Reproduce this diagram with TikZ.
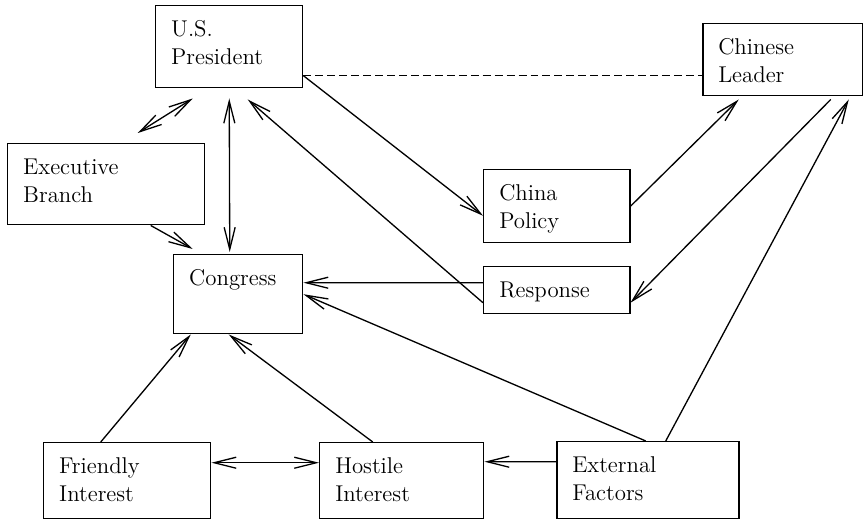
\documentclass[tikz,border=0pt]{standalone}
\usepackage{fontspec}
\usetikzlibrary{arrows.meta}

\begin{document}
\begin{tikzpicture}[>={Straight Barb[length=4.4mm,width=2.2mm]}, line width=0.75pt,
    box/.style 2 args={draw, line width=0.85pt, anchor=north west, align=left,
        inner xsep=0.31cm, inner ysep=0.29cm, text height=0.33cm,
        text width=#1, text depth=#2, font=\fontsize{13}{15.9}\selectfont}]
        % --- Khung hình ---
        \useasboundingbox (0,0) rectangle (17.26,-10.40);

        % --- Các ô ---
        \node[box={2.32cm}{0.73cm}] (USP) at (3.10,-0.10) {U.S.\\President};
        \node[box={2.58cm}{0.53cm}] (CL) at (14.04,-0.46) {Chinese\\Leader};
        \node[box={3.32cm}{0.71cm}] (EB) at (0.14,-2.86) {Executive\\Branch};
        \node[box={1.96cm}{0.67cm}] (Cong) at (3.46,-5.08) {Congress};
        \node[box={2.30cm}{0.55cm}] (CP) at (9.66,-3.38) {China\\Policy};
        \node[box={2.30cm}{0.03cm}] (Resp) at (9.66,-5.32) {Response};
        \node[box={2.72cm}{0.61cm}] (FI) at (0.86,-8.84) {Friendly\\Interest};
        \node[box={2.66cm}{0.61cm}] (HI) at (6.38,-8.84) {Hostile\\Interest};
        \node[box={3.02cm}{0.63cm}] (EF) at (11.12,-8.82) {External\\Factors};

        % --- Quan hệ quanh Tổng thống ---
        \draw[<->] ([xshift=0.63cm,yshift=0.20cm]EB.north) -- ([xshift=-0.73cm,yshift=-0.20cm]USP.south);
        \draw[<->] ([yshift=-0.20cm]USP.south) -- ([xshift=-0.17cm,yshift=0.04cm]Cong.north);
        \draw[->] ([xshift=0.89cm]EB.south) -- ([xshift=-0.91cm,yshift=0.10cm]Cong.north);
        \draw[->] ([yshift=-0.58cm]USP.east) -- ([yshift=-0.19cm]CP.west);

        % --- Đường nét đứt tới lãnh đạo Trung Quốc ---
        \coordinate (DashL) at ([yshift=-0.58cm]USP.east);
        \draw[dashed, dash pattern=on 4.5pt off 2.3pt] (DashL) -- (DashL -| CL.west);

        % --- Chính sách và phản hồi ---
        \draw[->] (CP.east) -- ([xshift=-0.88cm,yshift=-0.06cm]CL.south);
        \draw[->] ([xshift=0.96cm,yshift=-0.06cm]CL.south) -- ([yshift=-0.25cm]Resp.east);
        \draw[->] ([yshift=-0.25cm]Resp.west) -- ([xshift=0.37cm,yshift=-0.22cm]USP.south);
        \draw[->] ([yshift=0.15cm]Resp.west) -- ([yshift=0.23cm]Cong.east);

        % --- Các yếu tố bên dưới ---
        \draw[->] ([xshift=-0.04cm]EF.north) -- (Cong.east);
        \draw[->] ([xshift=0.36cm]EF.north) -- ([xshift=1.32cm,yshift=-0.06cm]CL.south);
        \draw[->] ([xshift=-0.53cm]FI.north) -- ([xshift=-0.95cm]Cong.south);
        \draw[->] ([xshift=-0.58cm]HI.north) -- ([xshift=-0.19cm]Cong.south);
        \draw[<->] ([yshift=0.36cm]FI.east) -- ([yshift=0.36cm]HI.west);
        \draw[->] ([yshift=0.37cm]EF.west) -- ([yshift=0.38cm]HI.east);
    \end{tikzpicture}
\end{document}
